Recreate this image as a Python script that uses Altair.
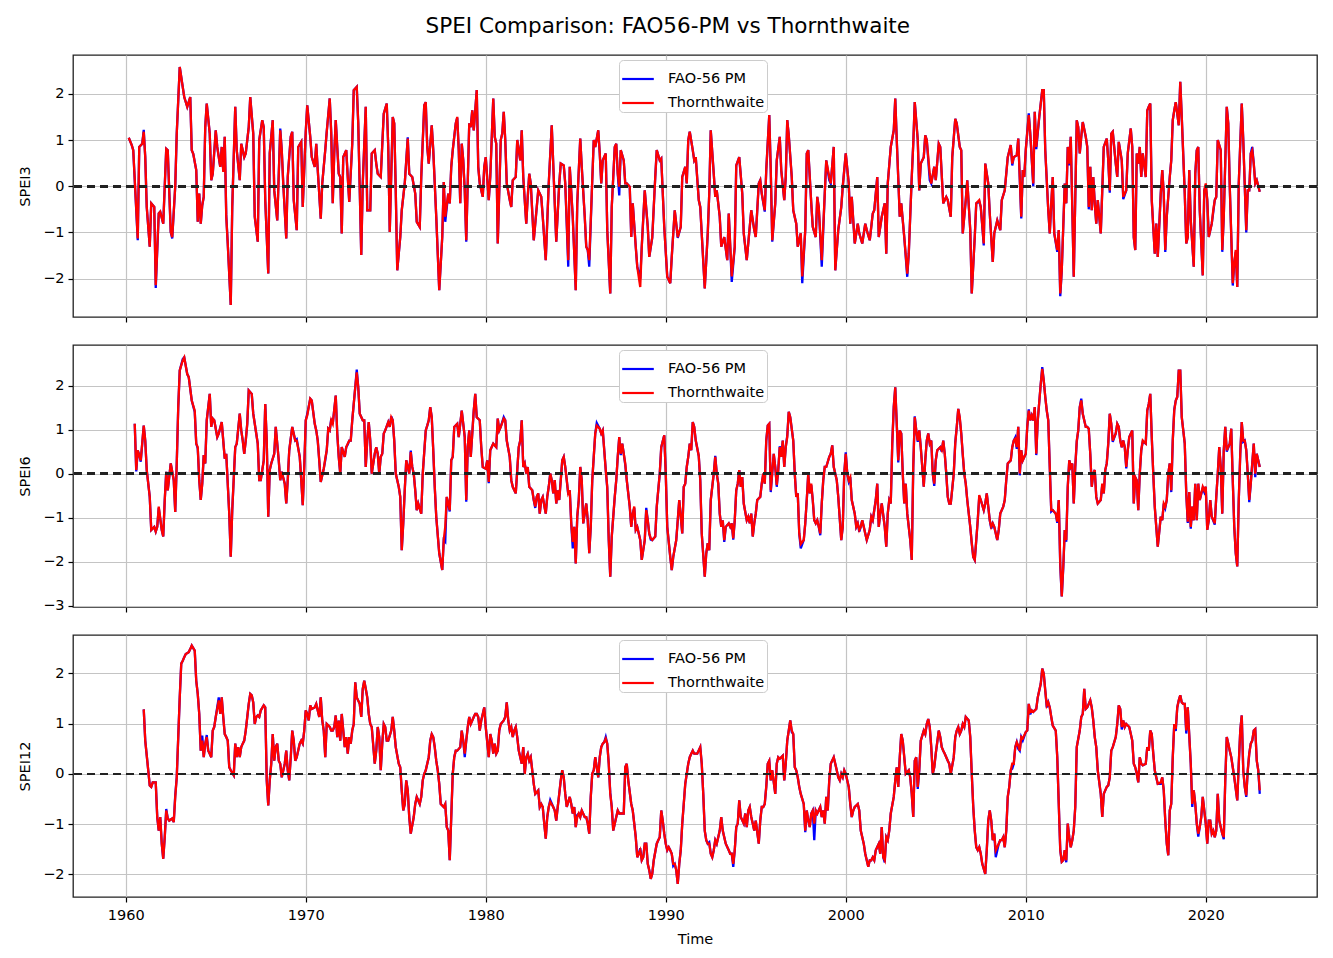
import altair as alt
import pandas as pd

# ---- data (month index since Jan 1960, value) ----
SPEI3_THW = [(2,1.05),(4,0.89),(5,0.78),(8,-1.13),(9,0.85),(11,0.92),(12,1.18),(13,0.63),(14,-0.45),(16,-1.31),(17,-0.37),(19,-0.45),(20,-2.14),(22,-0.59),(23,-0.55),(25,-0.81),(27,0.81),(28,0.78),(30,-0.99),(31,-1.1),(33,0.0),(34,1.14),(36,2.58),(39,1.93),(41,1.72),(43,1.93),(44,0.78),(45,0.7),(47,0.35),(48,-0.77),(49,-0.16),(50,-0.81),(51,-0.41),(52,-0.23),(53,1.28),(54,1.79),(56,1.14),(57,0.13),(58,0.27),(60,1.21),(61,0.85),(63,0.42),(64,0.85),(65,0.31),(66,1.07),(67,-0.66),(68,-1.24),(70,-2.57),(71,-0.45),(73,1.72),(74,0.78),(76,0.13),(77,0.92),(79,0.63),(80,0.71),(82,1.28),(83,1.93),(85,1.14),(86,-0.66),(88,-1.2),(89,1.0),(91,1.43),(92,1.28),(93,-0.3),(95,-1.89),(96,0.71),(98,1.43),(99,-0.09),(101,-0.74),(103,1.21),(104,0.78),(105,0.06),(107,-1.13),(108,0.2),(110,1.07),(111,1.18),(112,-0.3),(114,-0.95),(115,0.85),(117,0.96),(118,-0.45),(120,1.18),(121,1.75),(123,1.07),(124,0.63),(126,0.42),(127,0.92),(128,0.35),(130,-0.7),(131,0.06),(133,0.78),(134,1.18),(136,1.9),(137,1.14),(138,-0.37),(139,0.71),(140,1.43),(142,0.27),(143,0.2),(144,-1.02),(145,0.63),(147,0.78),(148,0.2),(149,-0.34),(151,0.92),(152,2.08),(154,2.15),(155,1.36),(157,-1.49),(158,0.06),(160,1.72),(161,-0.52),(163,-0.52),(164,0.71),(166,0.78),(167,0.49),(168,0.27),(170,0.2),(172,1.57),(174,1.79),(175,0.85),(176,-0.99),(178,1.5),(179,1.36),(180,-0.09),(181,-1.82),(183,-1.1),(184,-0.52),(186,0.06),(188,1.03),(189,0.27),(191,0.2),(193,-0.16),(194,-0.77),(196,-0.88),(197,0.2),(199,1.75),(200,1.82),(201,0.85),(202,0.49),(204,1.32),(205,0.78),(207,-0.66),(209,-2.25),(211,-1.1),(212,0.09),(213,-0.66),(215,-0.16),(216,-0.37),(217,0.42),(218,0.78),(220,1.36),(221,1.5),(222,0.78),(223,-0.37),(224,0.92),(225,0.56),(226,-0.09),(227,-1.17),(229,1.36),(230,1.28),(231,1.64),(232,1.21),(234,2.08),(235,0.42),(236,0.06),(238,-0.23),(239,0.42),(240,0.63),(242,-0.3),(243,0.2),(245,1.9),(246,1.07),(247,0.92),(248,-1.24),(250,1.0),(251,1.14),(252,1.61),(253,1.0),(254,0.06),(256,-0.3),(257,-0.45),(258,0.13),(260,0.2),(261,1.0),(262,0.78),(263,0.56),(264,1.21),(265,0.2),(267,-0.81),(268,-0.23),(269,0.27),(270,0.06),(272,-1.17),(274,-0.45),(275,-0.09),(277,-0.23),(278,-0.66),(280,-1.6),(282,0.06),(284,1.32),(286,-0.37),(287,-1.2),(289,0.06),(290,0.49),(292,0.45),(293,0.06),(295,-1.6),(296,0.42),(298,-0.66),(300,-2.25),(301,-0.37),(303,1.03),(304,0.42),(306,-0.66),(307,-1.31),(308,-1.38),(309,-1.6),(311,0.13),(312,1.0),(313,0.85),(315,1.21),(316,0.71),(317,0.06),(318,0.56),(320,0.71),(321,-0.95),(323,-2.32),(324,-0.45),(326,0.85),(327,0.92),(328,0.27),(329,-0.01),(330,0.78),(332,0.56),(333,0.06),(334,0.06),(336,-0.01),(337,-1.1),(338,-0.37),(340,-1.31),(341,-1.74),(343,-2.18),(344,-1.31),(346,-0.09),(348,-0.88),(349,-1.53),(351,-1.1),(353,0.2),(354,0.78),(356,0.56),(357,0.6),(359,-0.88),(361,-1.96),(363,-2.1),(364,-1.53),(366,-0.52),(368,-1.1),(370,-0.88),(371,0.2),(373,0.42),(374,0.06),(375,1.0),(376,1.18),(378,0.78),(379,0.56),(380,0.63),(382,-0.3),(383,-0.45),(386,-2.21),(388,-1.02),(389,-0.16),(390,1.21),(392,0.27),(393,-0.23),(394,-0.09),(396,-0.66),(397,-1.31),(399,-1.1),(401,-1.6),(402,-0.59),(404,-1.95),(406,-1.31),(407,0.45),(409,0.63),(411,-0.16),(412,-1.02),(414,-1.6),(416,-0.88),(417,-0.52),(419,-0.95),(420,-1.1),(422,0.06),(423,0.13),(424,-0.16),(426,-0.52),(427,0.35),(429,1.54),(430,0.35),(431,-1.17),(433,-0.37),(434,0.56),(436,1.07),(437,0.35),(439,-0.3),(440,0.2),(441,1.43),(442,1.1),(444,0.2),(445,-0.52),(447,-0.81),(448,-1.31),(450,-1.02),(451,-1.95),(453,-0.95),(454,0.71),(455,0.78),(457,-0.37),(458,-0.88),(460,-1.1),(461,-0.23),(462,-0.45),(464,-1.6),(466,-0.16),(467,0.56),(469,0.2),(470,0.06),(472,0.85),(473,-1.82),(475,-0.95),(477,-0.45),(478,-0.01),(480,0.71),(482,0.06),(483,-0.81),(484,-0.23),(486,-1.24),(488,-0.81),(489,-1.02),(491,-1.24),(493,-0.81),(494,-0.95),(496,-1.17),(498,-0.59),(499,-0.52),(501,0.2),(502,-1.1),(504,-0.66),(506,-0.37),(507,-1.46),(508,0.06),(510,0.85),(512,1.21),(513,1.9),(514,1.0),(516,-0.66),(517,-0.37),(519,-1.1),(521,-1.89),(522,-1.46),(524,0.2),(525,0.92),(526,1.82),(528,1.0),(529,-0.09),(530,0.49),(532,0.63),(533,1.1),(534,1.0),(536,0.27),(537,0.06),(539,0.42),(540,0.13),(542,0.92),(543,0.85),(545,-0.37),(547,-0.23),(548,-0.3),(550,-0.66),(551,0.63),(553,1.46),(554,1.36),(556,0.85),(557,0.78),(558,-1.02),(560,-0.3),(561,0.13),(563,-0.95),(564,-2.32),(566,-1.1),(567,-0.37),(569,-0.3),(570,-0.45),(572,-1.24),(573,0.49),(575,0.06),(576,-0.59),(578,-1.64),(579,-1.02),(581,-0.74),(583,-0.95),(584,-0.3),(586,-0.09),(588,0.63),(590,0.89),(591,0.49),(592,0.63),(594,0.67),(595,1.03),(597,-0.66),(598,0.35),(599,0.2),(600,0.78),(602,1.54),(603,1.14),(605,0.06),(606,1.61),(607,0.85),(609,1.5),(611,2.08),(612,2.08),(613,0.78),(615,-0.52),(616,-1.02),(617,-0.34),(618,0.2),(619,-1.02),(621,-1.38),(622,-0.95),(623,-2.32),(624,-1.82),(626,0.06),(627,-0.37),(628,0.85),(629,0.49),(630,1.07),(632,-1.96),(634,1.43),(635,1.28),(636,0.71),(637,1.07),(638,1.39),(640,1.07),(641,0.85),(642,-0.45),(643,0.42),(644,-0.52),(645,0.2),(646,-0.37),(647,-0.81),(648,-0.3),(650,-1.02),(651,-0.09),(652,0.85),(654,1.03),(655,0.56),(656,-0.09),(657,1.14),(658,1.18),(660,0.49),(661,0.2),(662,0.96),(664,0.56),(665,-0.23),(667,-0.09),(668,0.71),(670,1.25),(671,0.85),(672,-1.1),(673,-1.38),(674,0.71),(675,0.49),(676,0.85),(677,0.2),(678,0.71),(680,0.2),(681,1.64),(682,1.72),(683,1.79),(684,-0.3),(686,-1.46),(687,-0.81),(688,-1.53),(690,-0.16),(691,0.35),(692,-0.16),(693,-1.38),(694,-0.66),(696,0.2),(697,0.56),(698,1.43),(699,1.64),(700,1.82),(702,1.32),(703,2.26),(704,1.5),(706,-0.16),(707,-1.24),(708,-1.1),(709,0.35),(710,-0.74),(712,-1.74),(713,0.27),(714,0.78),(715,0.85),(716,-0.52),(718,-1.93),(719,-0.09),(720,0.06),(721,-0.3),(722,-1.1),(724,-0.81),(725,-0.52),(726,-0.3),(727,-0.23),(728,1.0),(730,0.78),(731,-1.38),(732,-0.66),(734,1.72),(735,1.36),(736,-0.01),(738,-2.1),(739,-1.67),(740,-1.38),(741,-2.18),(742,0.06),(744,1.79),(745,1.0),(747,-0.95),(748,-0.09),(749,-0.09),(750,0.71),(751,0.78),(752,0.49),(753,0.06),(754,0.13),(756,-0.12)]
SPEI3_FAO_DIFF = {8:-1.17,12:1.22,20:-2.2,31:-1.13,65:0.35,67:-0.62,103:1.25,188:1.06,213:-0.77,221:1.48,227:-1.2,295:-1.74,309:-1.74,329:-0.2,343:-2.0,351:-1.12,368:-1.12,404:-2.07,426:-0.55,431:-1.2,451:-2.1,464:-1.74,469:0.13,521:-1.96,536:0.13,569:-0.33,572:-1.28,591:0.45,597:-0.7,602:1.58,605:0.0,607:0.8,617:-0.4,621:-1.42,623:-2.38,629:0.45,642:-0.5,656:-0.14,665:-0.28,693:-1.42,720:0.02,725:-0.56,731:-1.42,738:-2.15,740:-1.42,747:-1.0,751:0.85}

SPEI6_THW = [(6,1.13),(7,0.08),(8,0.53),(9,0.42),(10,0.3),(12,1.09),(13,0.75),(14,0.08),(16,-0.53),(17,-1.28),(19,-1.21),(20,-1.32),(21,-1.21),(22,-0.75),(24,-1.28),(25,-1.43),(26,-0.6),(27,0.04),(28,-0.38),(30,0.23),(32,-0.15),(33,-0.87),(34,0.23),(35,1.51),(36,2.34),(38,2.57),(39,2.64),(41,2.26),(42,2.19),(44,1.66),(46,1.43),(47,0.68),(48,0.6),(49,-0.15),(50,-0.6),(51,-0.23),(52,0.42),(53,0.23),(54,1.21),(56,1.81),(57,1.06),(58,1.25),(59,1.21),(61,0.83),(62,0.91),(64,1.17),(65,0.75),(66,0.34),(67,0.45),(68,-0.23),(69,-0.91),(70,-1.89),(71,-0.83),(73,0.6),(74,0.68),(76,1.36),(77,0.98),(78,0.75),(79,0.45),(80,0.75),(81,1.13),(82,1.89),(84,1.81),(85,1.36),(87,0.91),(88,0.68),(89,-0.15),(90,-0.15),(92,0.3),(93,1.58),(94,0.75),(95,-0.98),(96,0.08),(97,0.23),(99,0.45),(100,1.06),(102,0.3),(103,-0.15),(104,0.04),(106,-0.23),(107,-0.68),(108,-0.15),(109,0.53),(111,1.06),(113,0.75),(114,0.75),(116,0.38),(117,-0.15),(118,-0.72),(119,0.15),(120,1.21),(121,1.32),(123,1.7),(124,1.66),(126,1.13),(127,0.98),(128,0.75),(129,0.3),(130,-0.19),(132,0.11),(133,0.34),(134,0.53),(135,1.02),(136,0.98),(137,1.21),(138,1.13),(140,1.77),(141,0.91),(142,0.38),(143,0.0),(144,0.6),(146,0.38),(147,0.6),(148,0.68),(149,0.75),(150,0.75),(151,1.21),(153,1.96),(154,2.3),(155,1.96),(156,1.36),(158,1.21),(159,1.21),(160,0.15),(161,0.75),(162,1.17),(163,0.75),(164,0.0),(166,0.45),(167,0.6),(168,0.45),(169,0.0),(170,0.38),(171,0.45),(172,0.91),(173,0.98),(175,1.17),(176,1.06),(177,1.28),(178,1.21),(179,0.75),(180,0.0),(182,-0.3),(183,-0.53),(184,-1.74),(185,-1.13),(186,-0.38),(187,0.3),(189,0.0),(190,0.49),(191,0.15),(192,0.0),(193,-0.38),(194,-0.83),(195,-0.68),(197,-0.91),(198,0.0),(200,0.98),(201,1.09),(202,1.21),(203,1.51),(204,1.28),(205,0.53),(206,-0.3),(207,-0.98),(209,-1.81),(211,-2.19),(212,-1.51),(213,-1.21),(214,-0.53),(216,-0.83),(217,0.3),(218,0.38),(219,1.06),(221,1.13),(222,0.83),(223,1.13),(224,1.43),(226,0.83),(227,-0.6),(228,0.6),(229,0.98),(230,0.38),(232,1.43),(233,1.81),(234,1.28),(236,1.21),(237,0.6),(238,0.15),(240,0.11),(241,0.3),(242,-0.19),(243,0.53),(245,0.68),(247,0.6),(248,1.25),(249,0.98),(250,1.06),(252,1.25),(253,1.21),(254,0.75),(256,0.38),(257,-0.15),(258,-0.3),(260,-0.45),(261,0.08),(262,0.6),(263,0.75),(264,1.21),(265,0.15),(266,0.23),(267,0.0),(268,0.15),(269,-0.3),(271,-0.38),(272,-0.6),(273,-0.75),(274,-0.53),(275,-0.45),(276,-0.91),(277,-0.6),(278,-0.53),(280,-0.91),(281,-0.53),(282,-0.3),(283,0.0),(284,-0.15),(285,-0.45),(286,-0.15),(287,-0.68),(288,-0.38),(289,-0.6),(291,0.3),(292,0.38),(293,0.15),(294,-0.15),(295,-0.45),(296,-0.38),(297,-1.13),(298,-1.55),(299,-1.21),(300,-2.04),(301,-0.98),(302,-0.6),(303,0.15),(304,-0.15),(305,-1.13),(307,-0.68),(308,-1.06),(309,-1.81),(310,-1.21),(311,-0.15),(312,0.38),(313,0.91),(314,1.09),(316,1.02),(317,0.91),(318,0.98),(319,0.53),(320,0.08),(321,-0.3),(322,-1.51),(323,-2.34),(324,-1.43),(326,-0.53),(327,-0.15),(328,0.38),(329,0.83),(330,0.45),(331,0.68),(332,0.45),(333,0.23),(334,-0.15),(336,-0.75),(337,-1.21),(338,-0.91),(339,-0.75),(340,-1.28),(341,-1.21),(342,-1.36),(343,-1.51),(344,-1.96),(346,-1.51),(347,-0.83),(348,-1.06),(349,-1.36),(350,-1.47),(351,-1.51),(352,-1.47),(353,-1.43),(354,-0.75),(356,0.0),(357,0.6),(359,0.87),(360,0.0),(361,-1.21),(363,-1.89),(364,-2.19),(365,-1.89),(367,-1.51),(368,-1.06),(369,-0.6),(370,-0.98),(371,-1.36),(372,-0.3),(373,-0.23),(374,0.15),(375,0.38),(376,0.68),(377,0.53),(378,1.17),(379,1.06),(380,0.75),(382,0.4),(383,-0.15),(384,-1.36),(386,-2.34),(387,-1.81),(388,-1.58),(389,-1.74),(390,-0.6),(392,0.0),(393,0.38),(394,0.0),(395,-0.23),(396,-0.91),(397,-1.21),(398,-1.06),(399,-1.51),(400,-1.21),(402,-1.13),(403,-1.21),(404,-1.13),(405,-1.47),(406,-1.06),(407,-0.38),(408,-0.23),(409,0.08),(410,-0.3),(411,-0.08),(412,-0.68),(414,-1.06),(415,-0.98),(416,-1.13),(417,-0.91),(418,-1.43),(419,-1.13),(420,-0.91),(421,-0.6),(423,-0.53),(424,-0.23),(425,0.0),(426,-0.23),(427,0.75),(428,1.09),(429,1.13),(430,-0.38),(432,0.45),(433,0.15),(434,-0.26),(435,0.08),(436,0.6),(437,0.38),(438,0.75),(439,0.15),(440,0.6),(441,0.83),(442,1.4),(443,1.28),(445,0.75),(446,0.0),(447,-0.53),(448,-0.45),(449,-1.36),(450,-1.6),(452,-1.51),(453,-1.13),(454,-0.6),(455,0.0),(456,-0.45),(457,-0.23),(458,-0.6),(459,-1.06),(460,-1.13),(461,-1.06),(462,-1.21),(463,-1.36),(464,-0.68),(465,-0.15),(466,0.15),(467,0.15),(469,0.38),(470,0.45),(471,0.64),(472,0.15),(473,0.0),(474,-0.15),(475,-0.53),(477,-1.51),(478,-1.21),(479,0.0),(480,0.45),(481,0.0),(482,-0.15),(483,-0.08),(484,-0.6),(486,-0.91),(487,-1.21),(488,-1.13),(489,-1.28),(490,-1.21),(491,-1.06),(492,-1.21),(493,-1.36),(494,-1.51),(496,-1.28),(497,-0.98),(498,-1.06),(499,-0.83),(500,-0.6),(501,-0.23),(502,-1.21),(503,-0.91),(504,-0.68),(506,-1.21),(507,-1.66),(508,-0.91),(509,-0.6),(510,-0.68),(511,0.68),(512,1.51),(513,1.96),(514,1.13),(515,0.3),(516,0.98),(517,0.91),(518,0.0),(519,-0.68),(520,-0.23),(521,-0.91),(523,-1.51),(524,-1.96),(525,0.15),(526,1.28),(527,0.98),(528,0.75),(529,0.98),(530,0.6),(532,-0.3),(533,0.3),(534,0.75),(535,0.91),(536,0.68),(537,0.75),(538,0.0),(539,-0.23),(540,0.3),(541,0.53),(543,0.6),(544,0.53),(545,0.75),(546,0.45),(547,0.0),(548,-0.53),(549,-0.68),(550,-0.68),(552,0.0),(553,0.68),(554,1.06),(555,1.47),(556,1.28),(557,0.91),(558,0.45),(559,0.0),(560,-0.23),(561,-0.6),(563,-1.21),(564,-1.58),(565,-1.89),(566,-1.96),(567,-1.51),(568,-1.06),(569,-0.49),(570,-0.6),(572,-0.83),(573,-0.68),(574,-0.45),(575,-0.75),(576,-1.06),(577,-1.21),(578,-1.13),(579,-1.21),(581,-1.51),(582,-1.28),(583,-0.91),(584,-0.83),(585,-0.75),(586,-0.6),(587,-0.15),(588,0.23),(590,0.3),(591,0.6),(592,0.75),(593,0.79),(594,0.6),(595,1.06),(596,0.0),(597,0.53),(598,0.3),(600,0.45),(601,1.06),(602,1.43),(603,1.21),(604,1.32),(605,1.21),(606,1.51),(607,0.45),(608,1.21),(610,2.04),(611,2.38),(612,2.11),(613,1.74),(614,1.43),(615,1.21),(616,0.15),(617,-0.83),(618,-0.83),(620,-0.91),(621,-1.09),(622,-0.6),(623,-2.04),(624,-2.79),(625,-2.11),(626,-1.28),(627,-1.51),(628,-0.3),(629,0.3),(630,0.15),(631,0.23),(632,-0.68),(633,0.15),(634,0.75),(635,0.98),(636,1.51),(637,1.66),(638,1.36),(640,1.06),(641,1.06),(642,1.02),(643,0.45),(644,-0.3),(645,0.0),(646,0.08),(647,-0.53),(648,-0.68),(650,-0.6),(651,-0.23),(652,-0.45),(653,0.08),(654,0.23),(655,0.68),(656,1.36),(657,1.13),(658,0.75),(660,0.91),(661,1.13),(662,1.06),(663,0.75),(664,0.6),(665,0.75),(666,0.6),(667,0.15),(668,0.53),(669,0.83),(671,0.98),(672,-0.68),(673,-0.08),(674,-0.15),(675,-0.83),(676,0.0),(677,0.53),(678,0.75),(680,0.68),(681,1.43),(682,1.58),(683,1.81),(684,0.83),(685,0.0),(686,-0.75),(687,-1.21),(688,-1.66),(690,-0.98),(691,-1.06),(692,-0.68),(693,-0.75),(694,-0.6),(695,0.0),(696,0.23),(697,-0.38),(698,0.75),(699,1.43),(700,1.66),(701,1.74),(702,2.34),(703,2.34),(704,1.28),(706,0.68),(707,-0.45),(708,-1.09),(709,-0.42),(710,-1.21),(711,-0.75),(712,-1.06),(713,-0.23),(714,-1.06),(715,-0.23),(716,-0.6),(718,-0.3),(719,-0.38),(720,-0.3),(721,-1.28),(722,-1.06),(723,-0.6),(724,-0.98),(726,-1.13),(727,-0.53),(728,0.0),(729,0.6),(730,0.15),(731,-0.91),(732,0.53),(733,1.06),(734,0.53),(736,0.68),(737,1.02),(738,-0.15),(739,-1.21),(740,-1.81),(741,-2.11),(742,-0.6),(743,0.45),(744,1.17),(745,0.75),(746,0.75),(747,0.53),(748,0.0),(749,-0.6),(750,-0.23),(751,0.23),(752,0.68),(753,0.0),(754,0.45),(756,0.15)]
SPEI6_FAO_DIFF = {7:0.05,10:0.27,22:-0.78,38:2.6,46:1.4,48:0.57,114:0.78,121:1.35,133:0.3,137:1.25,148:0.66,154:2.36,177:1.3,190:0.52,213:-1.55,216:-0.86,227:-0.64,242:-0.22,252:1.28,273:-0.78,295:-0.48,298:-1.7,314:1.15,321:-0.33,330:0.42,333:0.2,339:-0.78,347:-0.78,350:-1.5,393:0.4,399:-1.55,405:-1.5,430:-0.42,434:-0.3,436:0.62,441:0.86,450:-1.7,457:-0.26,463:-1.4,480:0.48,482:-0.18,489:-1.32,515:0.25,526:1.3,528:0.72,539:-0.28,544:0.5,553:0.71,556:1.25,558:0.42,569:-0.52,577:-1.25,593:0.82,594:0.56,596:-0.04,602:1.46,607:0.42,611:2.42,617:-0.86,621:-1.12,623:-2.1,625:-2.15,627:-1.55,634:0.72,637:1.7,651:-0.26,658:0.72,667:0.12,678:0.72,693:-0.78,697:-0.42,699:1.46,708:-1.12,710:-1.25,718:-0.33,719:-0.42,726:-1.16,734:0.5,745:0.72,749:-0.65,753:-0.08}

SPEI12_THW = [(12,1.28),(13,0.66),(15,0.07),(16,-0.23),(17,-0.26),(18,-0.17),(20,-0.17),(21,-0.86),(22,-1.13),(23,-0.86),(24,-1.39),(25,-1.69),(26,-1.26),(27,-0.73),(28,-0.89),(29,-0.93),(31,-0.89),(32,-0.96),(33,-0.46),(34,-0.07),(35,0.73),(36,1.52),(37,2.19),(38,2.25),(39,2.32),(40,2.38),(42,2.42),(43,2.48),(44,2.55),(45,2.5),(46,2.45),(47,1.85),(48,1.59),(49,1.19),(50,0.46),(51,0.66),(52,0.33),(53,0.6),(54,0.73),(55,0.46),(56,0.4),(57,0.33),(58,0.86),(59,0.93),(60,1.13),(62,1.46),(63,1.19),(64,1.52),(65,1.13),(66,0.79),(67,0.73),(68,0.66),(69,0.13),(70,0.07),(72,-0.03),(73,0.6),(74,0.33),(75,0.53),(76,0.33),(77,0.53),(78,0.6),(79,0.66),(80,0.86),(82,1.39),(83,1.59),(84,1.56),(85,1.42),(86,0.99),(87,1.13),(88,1.16),(89,1.13),(90,1.26),(92,1.36),(93,1.32),(94,-0.13),(95,-0.63),(96,-0.13),(97,0.2),(98,0.79),(99,0.26),(100,0.53),(101,0.6),(102,0.26),(103,0.2),(104,-0.07),(106,0.2),(107,0.46),(108,0.07),(109,-0.13),(110,0.33),(111,0.86),(112,0.66),(113,0.26),(114,0.33),(116,0.6),(117,0.66),(118,0.6),(119,0.86),(120,1.26),(121,1.19),(122,1.06),(123,1.36),(124,1.29),(126,1.32),(127,1.39),(128,1.26),(129,1.13),(130,1.52),(131,1.06),(132,0.86),(133,0.33),(134,0.99),(136,0.93),(137,0.86),(138,0.86),(139,0.93),(140,1.16),(141,0.73),(142,1.06),(143,0.66),(144,1.19),(146,0.53),(147,0.73),(148,0.4),(149,0.73),(150,0.6),(151,0.86),(152,0.99),(153,1.82),(154,1.52),(156,1.39),(157,1.13),(158,1.69),(159,1.85),(160,1.69),(161,1.52),(162,1.19),(163,0.99),(164,0.93),(166,0.2),(167,0.46),(168,0.93),(169,0.73),(170,0.07),(171,0.6),(172,0.99),(173,0.93),(174,0.66),(175,0.66),(177,0.86),(178,1.13),(179,0.86),(180,0.53),(182,0.2),(183,0.13),(184,-0.33),(185,-0.73),(186,-0.6),(187,-0.13),(188,-0.33),(189,-0.86),(190,-1.19),(192,-0.86),(193,-0.6),(194,-0.46),(195,-0.53),(196,-0.6),(197,-0.46),(198,-0.13),(199,0.0),(200,0.07),(202,0.33),(203,0.66),(204,0.79),(205,0.73),(206,0.53),(207,0.26),(208,0.07),(209,-0.2),(210,-0.6),(212,-0.66),(213,-0.6),(214,-1.06),(215,-1.13),(216,-1.72),(217,-0.86),(218,0.0),(219,0.33),(220,0.46),(221,0.46),(223,0.53),(224,0.86),(225,0.66),(226,0.4),(227,0.66),(228,0.93),(229,1.13),(230,0.99),(232,1.13),(233,1.19),(234,1.19),(235,1.13),(236,0.86),(237,1.06),(238,1.19),(239,1.32),(240,0.93),(242,0.33),(243,0.79),(244,0.66),(245,0.4),(246,0.6),(247,0.4),(248,0.46),(249,0.86),(250,0.99),(252,1.06),(253,1.13),(254,1.42),(255,1.06),(256,0.86),(257,0.93),(258,0.73),(259,0.86),(260,0.93),(261,0.73),(262,0.46),(264,0.2),(265,0.53),(266,0.0),(267,0.33),(268,0.4),(269,0.26),(270,0.33),(271,0.07),(272,-0.2),(273,-0.4),(275,-0.33),(276,-0.66),(277,-0.6),(278,-0.66),(279,-0.99),(280,-1.29),(281,-0.86),(282,-0.66),(283,-0.56),(285,-0.66),(286,-0.73),(287,-0.93),(288,-0.66),(289,-0.4),(290,-0.13),(291,0.07),(292,-0.07),(293,-0.4),(294,-0.66),(296,-0.46),(297,-0.6),(298,-0.79),(299,-0.66),(300,-1.06),(301,-0.86),(302,-0.79),(303,-0.86),(304,-0.73),(306,-0.86),(307,-0.86),(308,-0.99),(309,-1.19),(310,-0.46),(311,0.0),(312,0.07),(313,0.33),(315,-0.07),(316,0.33),(317,0.53),(318,0.6),(319,0.63),(320,0.7),(321,0.6),(322,0.2),(323,-0.4),(324,-0.66),(325,-1.13),(327,-0.86),(328,-0.73),(329,-0.79),(330,-0.79),(331,-0.79),(332,-0.79),(333,0.13),(334,0.2),(335,-0.13),(337,-0.6),(338,-0.73),(339,-0.99),(340,-1.26),(341,-1.66),(342,-1.59),(343,-1.52),(344,-1.72),(345,-1.66),(346,-1.39),(347,-1.39),(348,-1.79),(349,-1.92),(350,-2.09),(351,-1.99),(352,-1.72),(354,-1.39),(355,-1.32),(356,-1.26),(357,-0.73),(358,-0.93),(359,-1.19),(360,-1.39),(361,-1.52),(362,-1.46),(363,-1.52),(364,-1.59),(365,-1.79),(366,-1.79),(367,-1.92),(368,-2.19),(369,-1.79),(370,-1.52),(371,-0.99),(372,-0.6),(373,-0.2),(374,0.0),(375,0.2),(376,0.33),(377,0.4),(378,0.46),(379,0.4),(381,0.4),(383,0.53),(384,0.2),(385,-0.4),(386,-1.13),(387,-1.32),(388,-1.39),(389,-1.39),(390,-1.59),(391,-1.66),(392,-1.52),(393,-1.32),(394,-1.39),(396,-1.13),(397,-0.86),(398,-1.13),(399,-1.26),(400,-1.39),(402,-1.52),(403,-1.59),(404,-1.59),(405,-1.79),(406,-1.52),(407,-1.06),(408,-0.99),(409,-0.53),(410,-0.86),(412,-0.99),(413,-0.79),(414,-1.06),(415,-0.73),(416,-0.66),(417,-0.86),(418,-0.99),(419,-1.13),(420,-0.93),(422,-1.39),(423,-0.93),(424,-0.66),(425,-0.66),(426,-0.6),(427,-0.26),(428,0.2),(429,0.26),(430,-0.13),(431,0.07),(433,-0.4),(434,0.2),(435,0.33),(436,0.3),(437,0.33),(438,0.36),(439,-0.13),(440,0.2),(441,0.66),(443,1.06),(444,0.86),(445,0.79),(446,0.13),(447,0.07),(448,-0.07),(449,-0.26),(450,-0.4),(452,-0.6),(453,-1.13),(454,-0.73),(455,-0.93),(456,-1.06),(457,-0.79),(458,-0.73),(459,-0.99),(460,-0.73),(461,-0.79),(463,-0.66),(464,-0.86),(465,-0.73),(466,-0.99),(467,-0.46),(468,-0.73),(469,-0.13),(470,0.2),(472,0.33),(473,0.2),(474,0.07),(475,-0.07),(476,-0.13),(477,0.0),(478,-0.07),(479,0.07),(480,0.0),(482,-0.26),(483,-0.6),(484,-0.86),(485,-0.73),(486,-0.66),(487,-0.63),(488,-0.6),(489,-0.73),(490,-1.13),(492,-1.39),(493,-1.59),(494,-1.72),(495,-1.85),(496,-1.72),(497,-1.72),(498,-1.66),(499,-1.72),(500,-1.52),(502,-1.39),(503,-1.59),(504,-1.06),(505,-1.66),(506,-1.72),(507,-1.26),(508,-1.32),(509,-1.13),(510,-0.79),(512,-0.46),(513,-0.13),(514,0.13),(515,-0.26),(516,0.33),(517,0.79),(518,0.66),(519,0.33),(520,0.0),(522,0.07),(523,-0.07),(524,-0.4),(525,-0.86),(526,0.26),(527,0.33),(528,-0.26),(529,0.07),(530,0.66),(532,0.86),(533,0.79),(534,0.99),(535,1.09),(536,0.93),(537,0.53),(538,0.0),(539,0.13),(540,0.4),(542,0.86),(543,0.73),(544,0.53),(545,0.46),(546,0.4),(547,0.33),(548,0.26),(549,0.2),(550,0.0),(552,0.33),(553,0.73),(554,0.86),(555,0.93),(556,0.79),(557,0.86),(558,0.99),(559,0.93),(560,1.13),(562,1.06),(563,0.73),(564,0.0),(565,-0.66),(566,-1.13),(567,-1.46),(568,-1.52),(569,-1.46),(570,-1.59),(571,-1.79),(573,-1.99),(574,-1.52),(575,-0.93),(576,-0.73),(577,-0.93),(578,-1.32),(579,-1.19),(580,-1.52),(582,-1.39),(583,-1.32),(584,-1.32),(585,-1.26),(586,-1.46),(587,-1.13),(588,-0.46),(589,-0.26),(590,0.07),(591,0.2),(592,0.2),(593,0.53),(594,0.63),(595,0.56),(596,0.46),(597,0.73),(598,0.7),(600,0.83),(601,0.86),(602,1.39),(603,1.23),(604,1.26),(605,1.23),(606,1.26),(607,1.29),(608,1.52),(610,1.79),(611,2.09),(612,1.99),(613,1.66),(614,1.36),(615,1.42),(616,1.32),(617,1.13),(618,0.96),(620,0.86),(621,0.33),(622,-0.6),(623,-1.52),(624,-1.75),(625,-1.72),(626,-1.52),(627,-1.72),(628,-0.99),(629,-1.26),(630,-1.46),(631,-1.32),(632,-1.13),(633,-0.66),(634,0.53),(636,0.86),(637,1.13),(638,1.19),(639,1.69),(640,1.29),(641,1.32),(642,1.39),(643,1.46),(644,1.32),(645,1.06),(646,0.73),(647,0.53),(648,0.07),(650,-0.4),(651,-0.86),(652,-0.4),(653,-0.33),(654,-0.26),(655,-0.23),(656,-0.07),(657,0.46),(658,0.53),(660,0.73),(661,0.99),(662,1.36),(663,1.29),(664,0.93),(665,1.06),(666,0.93),(667,0.99),(668,0.96),(669,0.93),(671,0.66),(672,0.2),(673,0.13),(674,0.0),(675,-0.17),(676,0.33),(677,0.2),(678,0.17),(680,0.2),(681,0.53),(682,0.46),(683,0.86),(684,0.79),(685,0.4),(686,0.07),(687,-0.07),(688,-0.2),(690,-0.17),(691,-0.07),(692,-0.33),(693,-0.93),(694,-1.39),(695,-1.62),(696,-0.73),(697,-0.6),(698,0.33),(699,0.99),(700,0.89),(701,1.32),(702,1.46),(703,1.56),(704,1.42),(705,1.39),(706,1.39),(707,0.86),(708,1.32),(710,0.2),(711,-0.6),(712,-0.33),(713,-0.6),(714,-0.99),(715,-1.19),(716,-1.06),(717,-0.86),(718,-0.46),(720,-0.99),(721,-1.39),(722,-0.93),(723,-0.93),(724,-1.19),(725,-1.13),(726,-1.26),(727,-1.13),(728,-0.4),(729,-0.93),(731,-1.19),(732,-1.26),(733,-0.13),(734,0.73),(735,0.6),(736,0.46),(737,0.33),(738,0.13),(739,-0.07),(741,-0.53),(742,0.2),(743,0.86),(744,1.16),(745,0.07),(746,-0.26),(747,-0.43),(748,0.07),(749,0.4),(750,0.6),(751,0.66),(752,0.86),(753,0.89),(754,0.26),(755,0.07),(756,-0.33)]
SPEI12_FAO_DIFF = {27:-0.7,33:-0.43,51:0.76,54:0.77,62:1.52,226:0.33,283:-0.52,301:-0.82,320:0.73,323:-0.37,343:-1.48,365:-1.83,389:-1.36,405:-1.85,444:0.83,453:-1.16,459:-1.32,506:-1.76,528:-0.3,580:-1.66,591:0.1,595:0.5,598:0.66,603:1.18,614:1.32,627:-1.76,664:0.88,690:-0.2,700:0.85,707:0.8,711:-0.66,715:-1.25,732:-1.3,747:-0.46,756:-0.4}

SERIES = ["FAO-56 PM", "Thornthwaite"]
COLORS = ["#0000ff", "#ff0000"]
X_TICKS = [1960, 1970, 1980, 1990, 2000, 2010, 2020]
X_DOMAIN = [1957.07, 2026.18]
PANEL_NAMES = ["SPEI3", "SPEI6", "SPEI12"]
Y_DOMAINS = [[-2.83, 2.84], [-3.03, 2.92], [-2.45, 2.76]]
Y_TICKS = [[-2, -1, 0, 1, 2], [-3, -2, -1, 0, 1, 2], [-2, -1, 0, 1, 2]]

FONT = "DejaVu Sans"


def build_frame(pairs, fao_diff):
    rows = []
    for m, v in pairs:
        year = 1960 + m / 12.0
        rows.append({"year": year, "value": fao_diff.get(m, v), "series": SERIES[0]})
        rows.append({"year": year, "value": v, "series": SERIES[1]})
    return pd.DataFrame(rows)


LABEL_EXPR = "datum.value < 0 ? '\u2212' + format(-datum.value, 'd') : format(datum.value, 'd')"


def panel(name, df, ydom, yticks, last):
    color = alt.Color(
        "series:N",
        scale=alt.Scale(domain=SERIES, range=COLORS),
        legend=alt.Legend(
            title=None, orient="none", legendX=546, legendY=5,
            direction="vertical", fillColor="white", strokeColor="#cccccc",
            cornerRadius=4, padding=2, symbolType="stroke",
            symbolSize=1000, symbolStrokeWidth=2.2, labelFontSize=14.5,
            labelFont=FONT, labelColor="#000000", labelOffset=13, rowPadding=-2,
        ),
    )
    x = alt.X(
        "year:Q",
        scale=alt.Scale(domain=X_DOMAIN, nice=False, zero=False),
        axis=alt.Axis(values=X_TICKS, labels=last, labelExpr="format(datum.value, 'd')",
                      title="Time" if last else None, grid=True, labelPadding=6,
                      titlePadding=11),
    )
    y = alt.Y(
        "value:Q",
        scale=alt.Scale(domain=ydom, nice=False, zero=False),
        axis=alt.Axis(values=yticks, title=name, labelExpr=LABEL_EXPR, grid=True),
    )
    base = alt.Chart(df)
    fao = base.transform_filter(alt.datum.series == SERIES[0]).mark_line(
        strokeWidth=2.3, clip=True).encode(x=x, y=y, color=color)
    thw = base.transform_filter(alt.datum.series == SERIES[1]).mark_line(
        strokeWidth=2.3, clip=True).encode(x=x, y=y, color=color)
    zero = base.mark_rule(color="#222222", strokeDash=[8, 5], strokeWidth=1.8).encode(
        y=alt.datum(0))
    return alt.layer(fao, thw, zero).properties(width=1244, height=262)


frames = [
    build_frame(SPEI3_THW, SPEI3_FAO_DIFF),
    build_frame(SPEI6_THW, SPEI6_FAO_DIFF),
    build_frame(SPEI12_THW, SPEI12_FAO_DIFF),
]

panels = [
    panel(PANEL_NAMES[i], frames[i], Y_DOMAINS[i], Y_TICKS[i], i == 2)
    for i in range(3)
]

chart = (
    alt.vconcat(*panels, spacing=20)
    .resolve_legend(color="independent")
    .properties(
        title=alt.TitleParams(
            "SPEI Comparison: FAO56-PM vs Thornthwaite",
            fontSize=21.5, fontWeight="normal", font=FONT, color="#000000",
            anchor="middle", offset=17,
        ),
        padding={"left": 16, "top": 15, "right": 10, "bottom": 8},
        background="white",
    )
    .configure_axis(
        labelFont=FONT, labelFontSize=14.5, labelColor="#000000",
        titleFont=FONT, titleFontSize=14.5, titleFontWeight="normal", titleColor="#000000",
        gridColor="#c4c4c4", gridWidth=1.2, domain=False,
        tickColor="#000000", tickSize=5, tickWidth=1.2, labelPadding=4, titlePadding=10,
    )
    .configure_view(stroke="#222222", strokeWidth=1.3)
)

chart.save("out.html", embed_options={"renderer": "svg", "actions": False})
